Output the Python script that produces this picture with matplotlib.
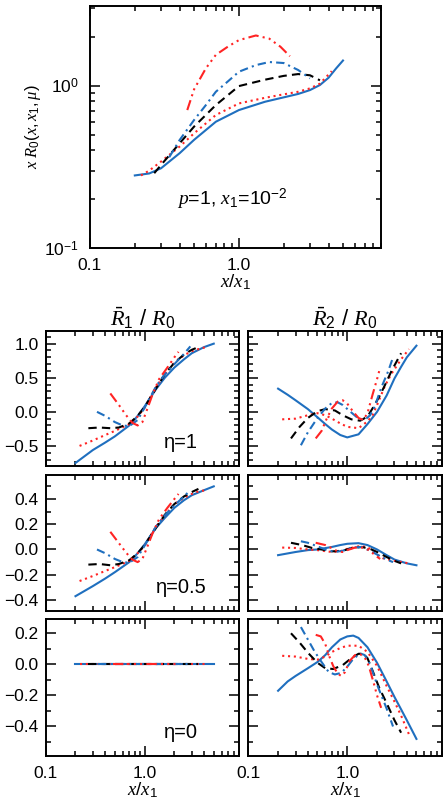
import numpy as np
import matplotlib
matplotlib.use('Agg')
import matplotlib.pyplot as plt
from matplotlib.ticker import FixedLocator, LogLocator, MultipleLocator, NullFormatter, FuncFormatter

plt.rcParams['font.family'] = ['Liberation Sans', 'DejaVu Sans']
plt.rcParams['mathtext.fontset'] = 'custom'
plt.rcParams['mathtext.it'] = 'Liberation Serif:italic'
plt.rcParams['mathtext.rm'] = 'Liberation Sans'
plt.rcParams['mathtext.sf'] = 'Liberation Sans'
plt.rcParams['axes.linewidth'] = 1.4

BLUE = '#1f6fbf'
RED = '#ff2424'
colors = [BLUE, RED, 'black', BLUE, RED]
dashes = ['-', (0, (1, 1.8)), (0, (4, 2.5)), (0, (4, 2, 1, 2)), (0, (5, 2, 1, 2, 1, 2, 1, 2))]

# curve order: solid, dotted, dashed, dash-dot, dash-dot-dot-dot
# ---- top panel: x R0
top_x = [
    [0.2, 0.25, 0.3, 0.4, 0.5, 0.7, 1.0, 1.5, 2.0, 2.5, 3.0, 3.5, 4.0, 4.5, 5.0],
    [0.22, 0.25, 0.3, 0.4, 0.5, 0.7, 1.0, 1.5, 2.0, 2.5, 3.0, 3.5, 4.2],
    [0.27, 0.3, 0.4, 0.5, 0.7, 1.0, 1.5, 2.0, 2.5, 3.0, 3.5],
    [0.34, 0.4, 0.5, 0.6, 0.7, 0.85, 1.0, 1.3, 1.6, 2.0, 2.5, 3.0],
    [0.45, 0.5, 0.6, 0.7, 0.85, 1.0, 1.3, 1.6, 1.9, 2.2],
]
top_y = [
    [0.28, 0.288, 0.31, 0.384, 0.464, 0.60, 0.708, 0.797, 0.848, 0.89, 0.94, 1.01, 1.12, 1.28, 1.43],
    [0.280, 0.300, 0.341, 0.422, 0.509, 0.660, 0.778, 0.843, 0.885, 0.918, 0.963, 1.03, 1.23],
    [0.289, 0.325, 0.442, 0.560, 0.760, 0.995, 1.09, 1.15, 1.18, 1.16, 1.08],
    [0.362, 0.463, 0.615, 0.760, 0.918, 1.07, 1.22, 1.34, 1.40, 1.38, 1.25, 1.11],
    [0.708, 0.95, 1.28, 1.55, 1.75, 1.91, 2.04, 1.95, 1.74, 1.52],
]

# ---- R1/R0, eta=1
r1L_x = [
    [0.2, 0.3, 0.4, 0.5, 0.7, 0.85, 1.0, 1.3, 1.6, 2.0, 2.5, 3.0, 4.0, 5.0],
    [0.22, 0.3, 0.4, 0.5, 0.7, 0.85, 1.0, 1.3, 1.6, 2.0, 2.5, 3.0, 3.5, 4.2],
    [0.27, 0.35, 0.45, 0.55, 0.7, 0.85, 1.0, 1.3, 1.6, 2.0, 2.5, 3.0, 3.5],
    [0.33, 0.4, 0.5, 0.6, 0.7, 0.85, 1.0, 1.3, 1.6, 2.0, 2.5, 2.9],
    [0.45, 0.55, 0.65, 0.75, 0.85, 0.95, 1.05, 1.2, 1.4, 1.7, 2.0, 2.2],
]
r1L_y = [
    [-0.75, -0.56, -0.45, -0.36, -0.2, -0.06, 0.08, 0.33, 0.5, 0.65, 0.77, 0.86, 0.95, 1.0],
    [-0.5, -0.42, -0.34, -0.28, -0.18, -0.07, 0.06, 0.36, 0.55, 0.72, 0.83, 0.89, 0.92, 0.95],
    [-0.24, -0.23, -0.24, -0.23, -0.17, -0.06, 0.07, 0.34, 0.55, 0.72, 0.84, 0.91, 0.95],
    [0.0, -0.06, -0.15, -0.2, -0.21, -0.12, 0.06, 0.37, 0.55, 0.7, 0.85, 0.96],
    [0.27, 0.1, -0.05, -0.16, -0.2, -0.15, 0.02, 0.25, 0.48, 0.65, 0.8, 0.88],
]

# ---- R2/R0, eta=1
r1R_x = [
    [0.2, 0.25, 0.3, 0.4, 0.5, 0.6, 0.7, 0.85, 1.0, 1.3, 1.6, 2.0, 2.5, 3.0, 3.5, 4.0, 5.0],
    [0.22, 0.3, 0.4, 0.5, 0.6, 0.7, 0.85, 1.0, 1.3, 1.6, 1.8, 2.0, 2.4, 2.8, 3.5, 4.2],
    [0.27, 0.33, 0.4, 0.5, 0.6, 0.75, 0.9, 1.1, 1.35, 1.6, 1.8, 2.1, 2.4, 2.8, 3.5],
    [0.34, 0.4, 0.5, 0.6, 0.7, 0.8, 0.9, 1.1, 1.3, 1.5, 1.7, 1.9, 2.2, 2.6, 2.9],
    [0.48, 0.55, 0.62, 0.7, 0.8, 0.9, 1.0, 1.15, 1.3, 1.45, 1.6, 1.8, 2.0, 2.15],
]
r1R_y = [
    [0.34, 0.25, 0.17, 0.04, -0.08, -0.18, -0.26, -0.34, -0.375, -0.33, -0.18, 0.0, 0.24, 0.49, 0.66, 0.8, 0.97],
    [-0.11, -0.1, -0.05, -0.02, -0.05, -0.1, -0.17, -0.22, -0.24, -0.14, -0.05, 0.1, 0.38, 0.56, 0.77, 0.92],
    [-0.39, -0.22, -0.09, 0.01, 0.04, 0.02, -0.05, -0.11, -0.13, -0.07, 0.05, 0.22, 0.39, 0.6, 0.86],
    [-0.49, -0.3, -0.09, 0.05, 0.13, 0.14, 0.1, -0.01, -0.1, -0.12, -0.05, 0.08, 0.35, 0.6, 0.8],
    [-0.39, -0.28, -0.1, 0.05, 0.15, 0.17, 0.12, 0.0, -0.09, -0.12, -0.02, 0.25, 0.48, 0.65],
]

# ---- R1/R0, eta=0.5
r2L_x = r1L_x
r2L_y = [
    [-0.37, -0.29, -0.23, -0.18, -0.1, -0.03, 0.04, 0.17, 0.25, 0.33, 0.39, 0.43, 0.47, 0.5],
    [-0.25, -0.21, -0.17, -0.14, -0.09, -0.03, 0.03, 0.18, 0.27, 0.36, 0.41, 0.44, 0.46, 0.47],
    [-0.12, -0.115, -0.125, -0.115, -0.085, -0.03, 0.035, 0.17, 0.275, 0.36, 0.42, 0.455, 0.48],
    [0.0, -0.03, -0.075, -0.1, -0.105, -0.06, 0.03, 0.18, 0.27, 0.35, 0.42, 0.47],
    [0.14, 0.05, -0.025, -0.08, -0.1, -0.075, 0.01, 0.125, 0.24, 0.33, 0.4, 0.44],
]

# ---- R2/R0, eta=0.5
r2R_x = [
    [0.2, 0.3, 0.4, 0.5, 0.7, 0.85, 1.0, 1.3, 1.6, 2.0, 2.5, 3.0, 4.0, 5.0],
    [0.22, 0.3, 0.4, 0.5, 0.7, 0.85, 1.0, 1.3, 1.6, 1.9, 2.3, 3.0, 4.2],
    [0.27, 0.35, 0.45, 0.55, 0.7, 0.9, 1.1, 1.4, 1.7, 2.0, 2.5, 3.0, 3.5],
    [0.34, 0.4, 0.5, 0.6, 0.75, 0.9, 1.1, 1.4, 1.7, 2.0, 2.5, 2.9],
    [0.48, 0.6, 0.7, 0.8, 0.9, 1.0, 1.2, 1.45, 1.7, 1.9, 2.15],
]
r2R_y = [
    [-0.045, -0.02, -0.005, 0.0, 0.02, 0.035, 0.045, 0.05, 0.035, 0.0, -0.045, -0.08, -0.11, -0.125],
    [0.015, 0.012, 0.0, -0.005, -0.02, -0.015, 0.005, 0.025, 0.02, -0.03, -0.07, -0.09, -0.11],
    [0.053, 0.035, 0.01, 0.0, -0.015, -0.01, 0.01, 0.02, 0.005, -0.02, -0.06, -0.09, -0.11],
    [0.065, 0.053, 0.025, 0.0, -0.02, -0.01, 0.015, 0.02, -0.01, -0.04, -0.08, -0.1],
    [0.053, 0.035, 0.01, -0.015, -0.02, -0.005, 0.015, 0.015, -0.01, -0.045, -0.075],
]

# ---- R1/R0, eta=0 (identically zero)
r3L_x = [[0.2, 5.0], [0.22, 4.2], [0.27, 3.5], [0.34, 2.9], [0.48, 2.2]]
r3L_y = [[0.0, 0.0]] * 5

# ---- R2/R0, eta=0
r3R_x = [
    [0.2, 0.25, 0.3, 0.4, 0.5, 0.6, 0.7, 0.85, 1.0, 1.15, 1.3, 1.6, 2.0, 2.5, 3.0, 3.5, 4.0, 5.0],
    [0.22, 0.3, 0.4, 0.5, 0.6, 0.7, 0.85, 1.0, 1.3, 1.6, 2.0, 2.5, 3.0, 3.5, 4.2],
    [0.27, 0.33, 0.4, 0.5, 0.6, 0.72, 0.9, 1.1, 1.3, 1.45, 1.6, 1.8, 2.1, 2.5, 3.0, 3.5],
    [0.34, 0.4, 0.47, 0.55, 0.65, 0.75, 0.87, 1.0, 1.15, 1.35, 1.5, 1.7, 2.0, 2.5, 2.9],
    [0.48, 0.54, 0.6, 0.66, 0.72, 0.8, 0.87, 0.95, 1.05, 1.2, 1.35, 1.5, 1.65, 1.85, 2.0, 2.2],
]
r3R_y = [
    [-0.17, -0.11, -0.075, -0.025, 0.015, 0.06, 0.11, 0.16, 0.18, 0.185, 0.17, 0.11, 0.01, -0.11, -0.21, -0.29, -0.36, -0.48],
    [0.055, 0.05, 0.035, 0.03, 0.05, 0.08, 0.105, 0.12, 0.12, 0.08, -0.01, -0.14, -0.24, -0.33, -0.45],
    [0.2, 0.14, 0.075, 0.01, -0.025, -0.03, -0.005, 0.04, 0.068, 0.068, 0.04, -0.04, -0.15, -0.25, -0.36, -0.44],
    [0.24, 0.16, 0.08, 0.015, -0.05, -0.065, -0.055, -0.015, 0.035, 0.07, 0.06, 0.0, -0.13, -0.285, -0.4],
    [0.19, 0.18, 0.13, 0.05, -0.01, -0.06, -0.075, -0.05, 0.02, 0.06, 0.065, 0.045, -0.01, -0.12, -0.2, -0.28],
]

W, H = 447, 805
fig = plt.figure(figsize=(W / 100, H / 100), dpi=100)


def box(l, r, t, b):
    return [l / W, 1 - b / H, (r - l) / W, (b - t) / H]


def draw(ax, xs, ys):
    for i in range(5):
        ax.plot(xs[i], ys[i], color=colors[i], linestyle=dashes[i], lw=1.5)


def style(ax):
    ax.set_xscale('log')
    ax.set_xlim(0.1, 9)
    ax.xaxis.set_major_locator(FixedLocator([0.1, 1.0]))
    ax.xaxis.set_minor_locator(LogLocator(base=10, subs=np.arange(2, 10)))
    ax.xaxis.set_major_formatter(FuncFormatter(lambda v, p: '%.1f' % v))
    ax.xaxis.set_minor_formatter(NullFormatter())
    ax.tick_params(which='both', direction='in', top=True, right=True, labelsize=12.5, width=1.1)
    ax.tick_params(which='major', length=7)
    ax.tick_params(which='minor', length=3.5)
    ax.tick_params(axis='x', pad=7)
    ax.tick_params(axis='y', pad=5)


# top panel
ax0 = fig.add_axes(box(90, 381, 6, 248))
draw(ax0, top_x, top_y)
style(ax0)
ax0.set_yscale('log')
ax0.set_ylim(0.1, 3.1)
ax0.yaxis.set_major_locator(FixedLocator([0.1, 1.0]))
ax0.yaxis.set_major_formatter(FuncFormatter(lambda v, p: '10$^{%d}$' % round(np.log10(v))))
ax0.yaxis.set_minor_locator(LogLocator(base=10, subs=np.arange(2, 10)))
ax0.yaxis.set_minor_formatter(NullFormatter())
ax0.tick_params(axis='y', pad=8)
ax0.set_xlabel(r'$x/x_1$', fontsize=13.5, labelpad=0)
ax0.set_ylabel(r'$x\ R_0(x,x_1,\mu)$', fontsize=12, labelpad=1)
ax0.text(0.49, 0.2, r'$p$=1, $x_1$=10$^{-2}$', transform=ax0.transAxes,
         ha='center', va='center', fontsize=14)

rows = [(330.7, 465.7, [-0.79, 1.19], 0.5, r1L_x, r1L_y, r1R_x, r1R_y, '\u03b7=1'),
        (475, 610.7, [-0.485, 0.59], 0.2, r2L_x, r2L_y, r2R_x, r2R_y, '\u03b7=0.5'),
        (619.3, 756, [-0.59, 0.29], 0.2, r3L_x, r3L_y, r3R_x, r3R_y, '\u03b7=0')]

fmt = FuncFormatter(lambda v, p: ('%.1f' % v).replace('-', '\u2212'))
for k, (t, b, yl, step, lx, ly, rx, ry, lab) in enumerate(rows):
    axL = fig.add_axes(box(45.7, 239, t, b))
    axR = fig.add_axes(box(248.3, 441.7, t, b))
    draw(axL, lx, ly)
    draw(axR, rx, ry)
    for ax in (axL, axR):
        style(ax)
        ax.set_ylim(*yl)
        ax.yaxis.set_major_locator(MultipleLocator(step))
        ax.yaxis.set_minor_locator(MultipleLocator(0.1))
        ax.yaxis.set_major_formatter(fmt)
        if k < 2:
            ax.tick_params(labelbottom=False)
        else:
            ax.set_xlabel(r'$x/x_1$', fontsize=13.5, labelpad=0)
    axR.tick_params(labelleft=False)
    axL.text(0.7, 0.17, lab, transform=axL.transAxes, ha='center', va='center', fontsize=14.5)
    if k == 0:
        axL.set_title(r'$\bar{R}_1$ / $R_0$', fontsize=16, pad=3)
        axR.set_title(r'$\bar{R}_2$ / $R_0$', fontsize=16, pad=3)

fig.savefig('out.png', dpi=100)
